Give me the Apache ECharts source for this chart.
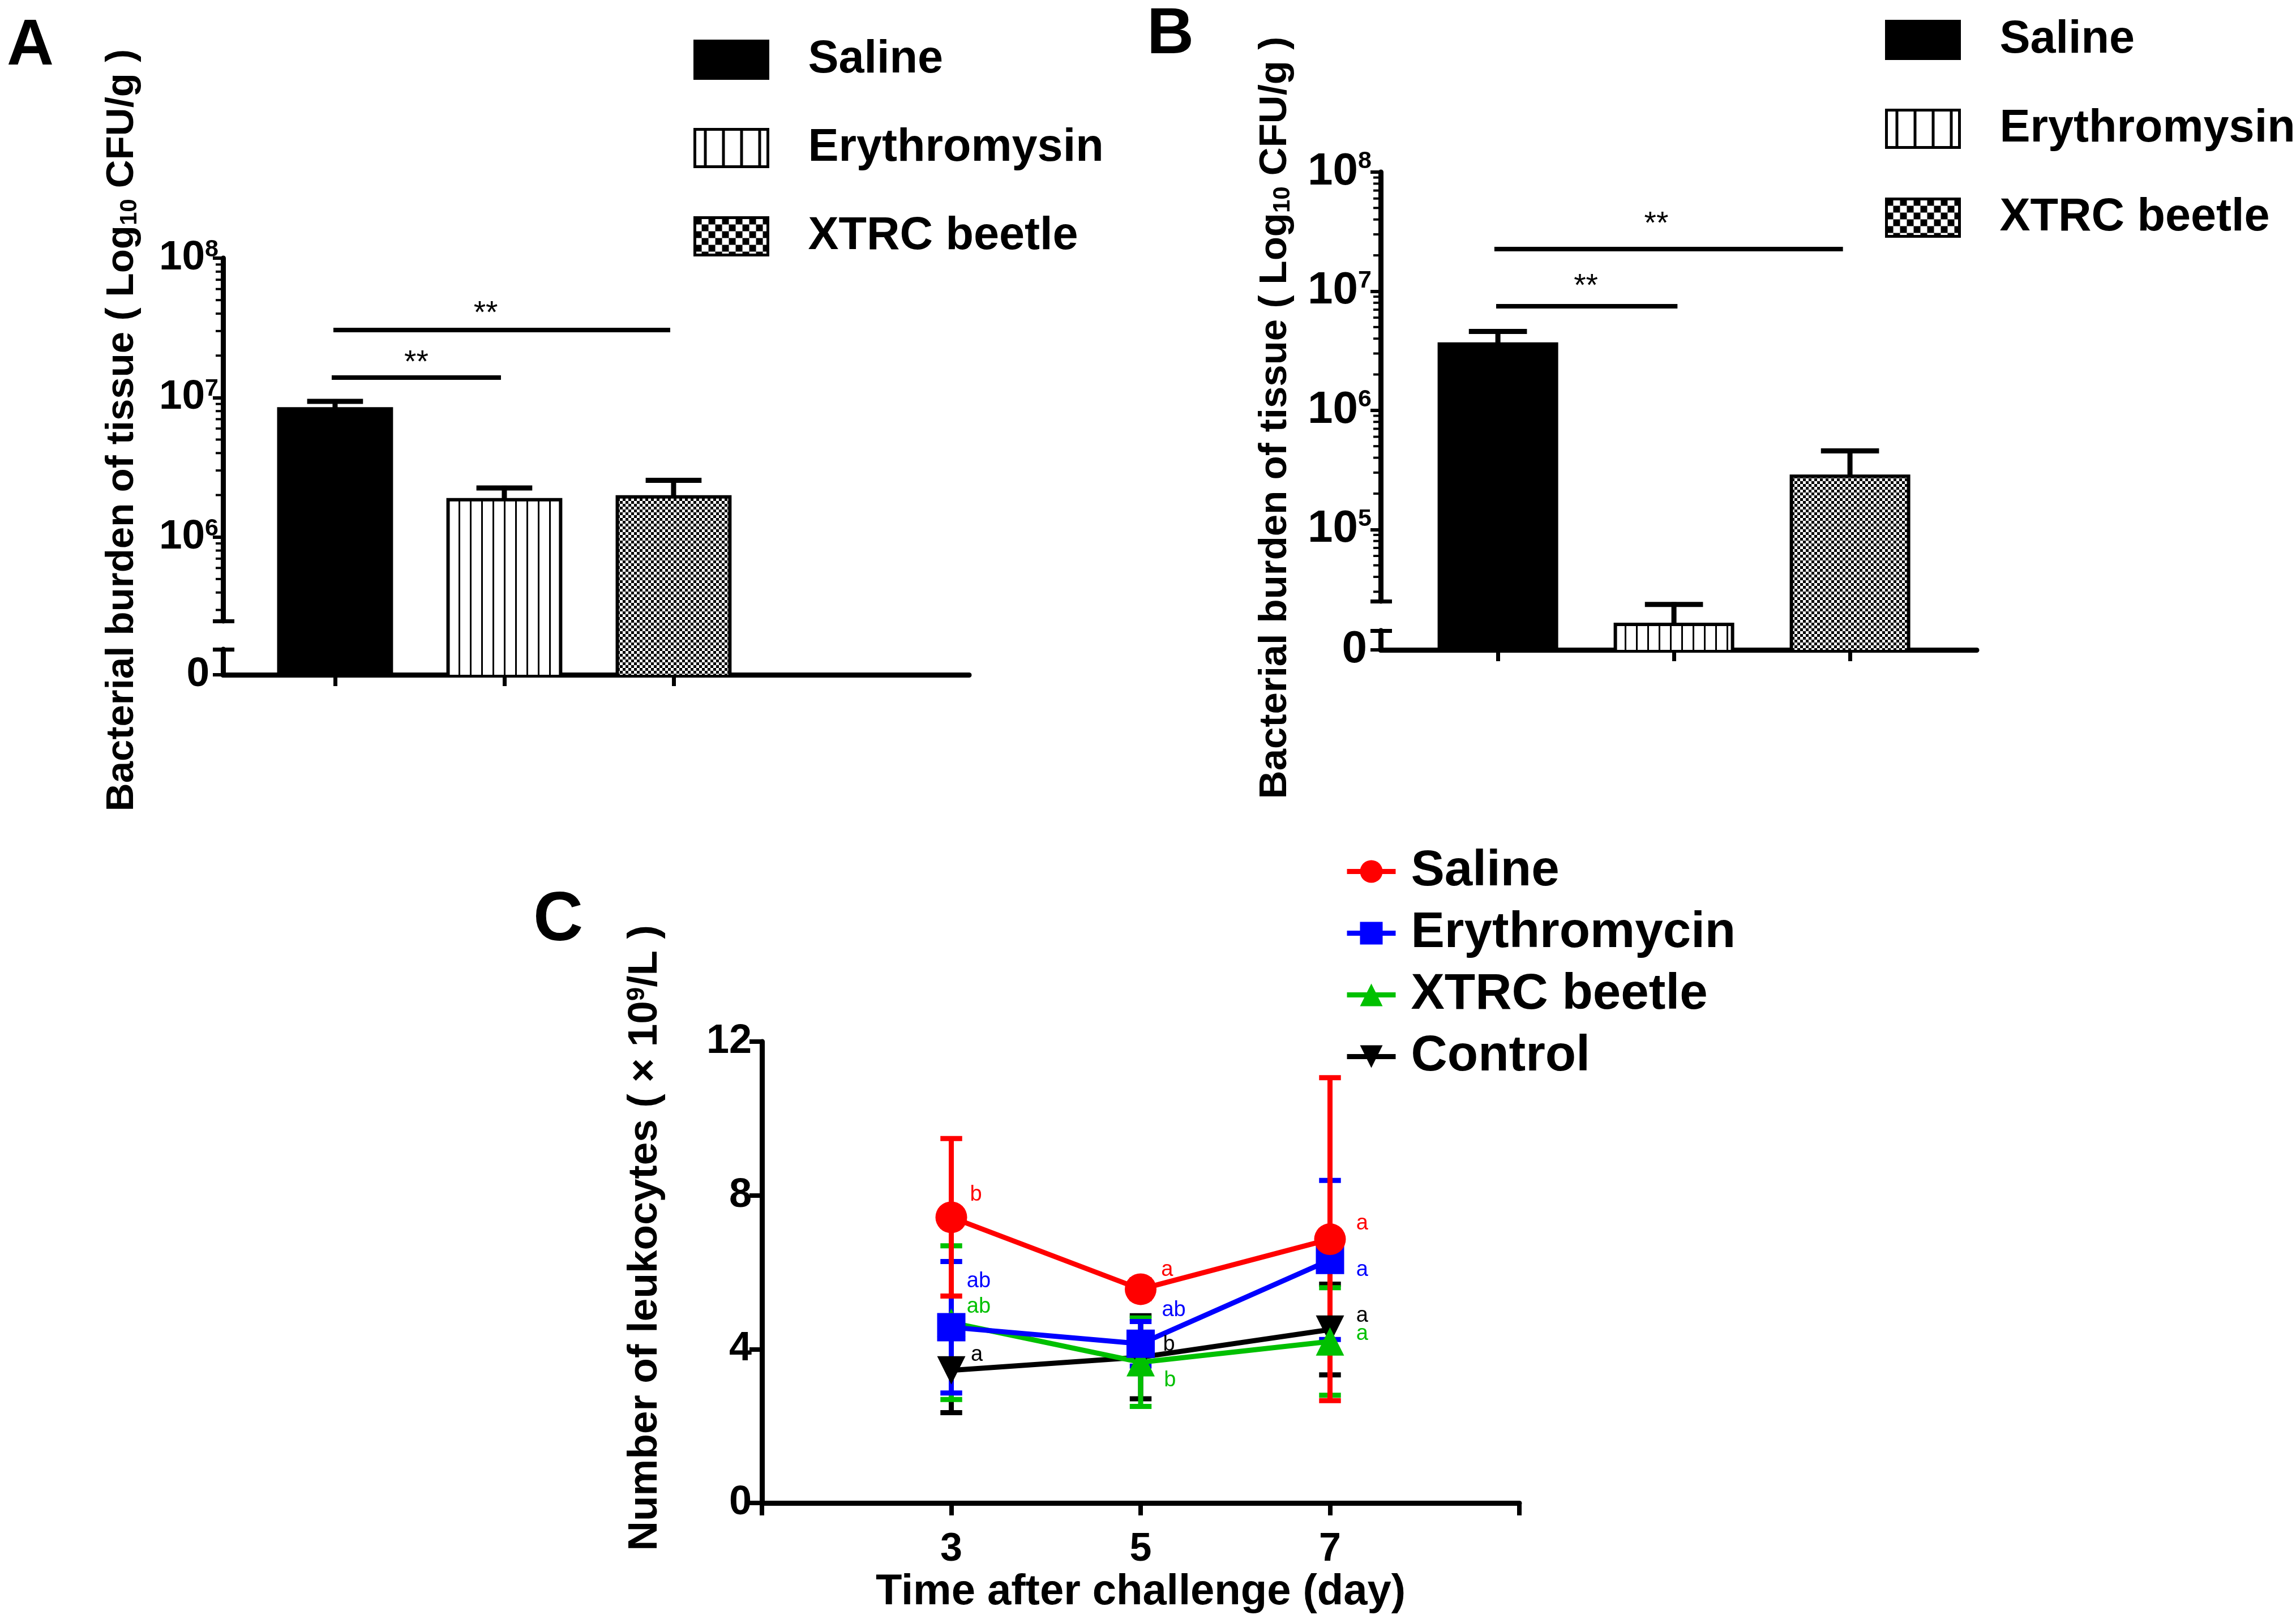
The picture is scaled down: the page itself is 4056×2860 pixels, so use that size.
<!DOCTYPE html>
<html lang="en">
<head>
  <meta charset="UTF-8">
  <title>Bacterial burden and leukocytes</title>
  <script src="https://cdn.jsdelivr.net/npm/echarts@6.0.0/dist/echarts.min.js"></script>
  <style>
    html, body { margin: 0; padding: 0; background: #fff; }
    .panel { position: absolute; left: 0; top: 0; width: 4056px; height: 2860px; }
  </style>
</head>
<body>
  <div id="panelA" class="panel"></div>
  <div id="panelB" class="panel"></div>
  <div id="panelC" class="panel"></div>

  <script type="text/javascript">
    const FONT = '"Liberation Sans", Arial, Helvetica, sans-serif';

    // ---------- panels A and B: tissue bacterial burden (CFU/g) ----------
    const barGroups = ['Saline', 'Erythromysin', 'XTRC beetle'];
    const barPositions = [0, 1, 2];
    const tissueMeanA = [8.3e6, 1.85e6, 1.94e6];
    const tissueErrTopA = [9.4e6, 2.25e6, 2.55e6];
    const tissueMeanB = [3.6e6, 1.6e4, 2.8e5];
    const tissueErrTopB = [4.6e6, 2.35e4, 4.57e5];
    // significance bars: [start, end, level]
    const sigBarsA = [[-0.02, 0.98, 1.39e7], [-0.01, 1.98, 3.05e7]];
    const sigBarsB = [[-0.01, 1.02, 7.48e6], [-0.02, 1.96, 2.26e7]];
    // "**" marks: [x, level]
    const sigStarsA = [[0.48, 1.97e7], [0.89, 4.43e7]];
    const sigStarsB = [[0.50, 1.24e7], [0.90, 4.12e7]];

    // ---------- panel C: leukocytes (x10^9/L) ----------
    const lineGroups = ['Saline', 'Erythromycin', 'XTRC beetle', 'Control'];
    const days = [3, 5, 7];
    const wbcSaline = [7.43, 5.56, 6.86];
    const wbcErythro = [4.57, 4.14, 6.32];
    const wbcXtrc = [4.69, 3.66, 4.2];
    const wbcControl = [3.45, 3.79, 4.51];
    const sdSaline = [2.05, 0.25, 4.2];
    const sdErythro = [1.71, 0.58, 2.07];
    const sdXtrc = [2.0, 1.15, 1.4];
    const sdControl = [1.1, 1.08, 1.18];
    // letters of significance: [x, y, text]
    const lettersSaline = [[3.26, 8.02, 'b'], [5.28, 6.06, 'a'], [7.34, 7.27, 'a']];
    const lettersErythro = [[3.29, 5.76, 'ab'], [5.35, 5.01, 'ab'], [7.34, 6.06, 'a']];
    const lettersXtrc = [[3.29, 5.10, 'ab'], [5.31, 3.19, 'b'], [7.34, 4.40, 'a']];
    const lettersControl = [[3.27, 3.85, 'a'], [5.30, 4.12, 'b'], [7.34, 4.86, 'a']];

    // ---------- fill patterns ----------
    function stripes(period, lineW) {
      const c = document.createElement('canvas');
      c.width = period; c.height = 4;
      const g = c.getContext('2d');
      g.fillStyle = '#fff'; g.fillRect(0, 0, period, 4);
      g.fillStyle = '#000'; g.fillRect(Math.round(period / 2), 0, lineW, 4);
      return { image: c, repeat: 'repeat' };
    }
    function checker(sq) {
      const c = document.createElement('canvas');
      c.width = sq * 2; c.height = sq * 2;
      const g = c.getContext('2d');
      g.fillStyle = '#fff'; g.fillRect(0, 0, sq * 2, sq * 2);
      g.fillStyle = '#000'; g.fillRect(0, 0, sq, sq); g.fillRect(sq, sq, sq, sq);
      return { image: c, repeat: 'repeat' };
    }
    const barFills = ['#000', stripes(20, 3), checker(5)];
    const legendFills = ['#000', stripes(32, 5), checker(12)];

    const BAR_FRAC = 0.685;
    const CAP_FRAC = 0.33;
    const BORDER = 6;

    function unitPx(api, v) {
      return api.coord([1, v])[0] - api.coord([0, v])[0];
    }
    // thick strokes drawn as filled rectangles
    function hBar(x1, x2, y, w, color) {
      return { type: 'rect', shape: { x: x1, y: y - w / 2, width: x2 - x1, height: w }, style: { fill: color } };
    }
    function vBar(x, y1, y2, w, color) {
      const top = Math.min(y1, y2);
      return { type: 'rect', shape: { x: x - w / 2, y: top, width: w, height: Math.abs(y2 - y1) }, style: { fill: color } };
    }

    function buildBarPanel(dom, p) {
      const chart = echarts.init(dom);
      const gapTop = p.upperTop + p.upperH;
      const lowTop = gapTop + p.gapH;
      const grids = [
        { left: p.left, top: p.upperTop, width: p.width, height: p.upperH, outerBoundsMode: 'none' },
        { left: p.left, top: gapTop, width: p.width, height: p.gapH, outerBoundsMode: 'none' },
        { left: p.left, top: lowTop, width: p.width, height: p.lowerH, outerBoundsMode: 'none' }
      ];
      const xAxes = grids.map((g, i) => ({
        gridIndex: i, type: 'value', min: p.xMin, max: p.xMax,
        show: i === 2,
        splitLine: { show: false },
        axisLine: { onZero: false, lineStyle: { color: '#000', width: 9 } },
        axisTick: { customValues: barPositions, length: 20, lineStyle: { color: '#000', width: 7 } },
        axisLabel: { show: false }
      }));
      const yAxes = [
        {
          gridIndex: 0, type: 'log', logBase: 10, min: p.logMin, max: 1e8,
          splitLine: { show: false },
          axisLine: { onZero: false, lineStyle: { color: '#000', width: 9 } },
          axisTick: { length: 18, lineStyle: { color: '#000', width: 6 } },
          axisLabel: {
            margin: p.labelMargin,
            formatter: function (v) {
              const e = Math.log10(v), r = Math.round(e);
              return Math.abs(e - r) < 1e-6 ? '{b|10}{s|' + r + '}' : '';
            },
            rich: {
              b: { fontFamily: FONT, fontSize: p.tickFont, fontWeight: 'bold', color: '#000' },
              s: { fontFamily: FONT, fontSize: 43, fontWeight: 'bold', color: '#000', verticalAlign: 'top' }
            }
          }
        },
        { gridIndex: 1, type: 'log', logBase: 10, min: p.gapMin, max: p.logMin, show: false, axisLine: { onZero: false } },
        {
          gridIndex: 2, type: 'value', min: 0, max: p.gapMin, interval: p.gapMin,
          splitLine: { show: false },
          axisLine: { onZero: false, lineStyle: { color: '#000', width: 9 } },
          axisTick: { length: 18, lineStyle: { color: '#000', width: 6 } },
          axisLabel: {
            margin: 24, fontFamily: FONT, fontSize: p.tickFont, fontWeight: 'bold', color: '#000',
            formatter: v => (v === 0 ? '0' : '')
          }
        }
      ];

      const series = [];
      const bases = [1, 1, 0];
      grids.forEach((g, gi) => {
        barGroups.forEach((name, k) => {
          series.push({
            type: 'custom', name: name, xAxisIndex: gi, yAxisIndex: gi,
            clip: true, silent: true, z: 2,
            data: [[barPositions[k], p.mean[k]]],
            renderItem: function (params, api) {
              const x = api.value(0), v = api.value(1);
              const top = api.coord([x, v]);
              const base = api.coord([x, bases[gi]]);
              const w = unitPx(api, v) * BAR_FRAC;
              const h = base[1] - top[1];
              return {
                type: 'group', children: [
                  { type: 'rect', shape: { x: top[0] - w / 2, y: top[1] - BORDER / 2, width: w, height: h + BORDER }, style: { fill: '#000' } },
                  { type: 'rect', shape: { x: top[0] - w / 2 + BORDER, y: top[1] + BORDER / 2, width: w - 2 * BORDER, height: h }, style: { fill: barFills[k] } }
                ]
              };
            }
          });
        });
      });
      // error bars (upper whisker only), drawn in the grid that holds the mean
      [0, 1].forEach(gi => {
        const items = [];
        barPositions.forEach((x, k) => {
          const inUpper = p.mean[k] >= p.logMin;
          if ((gi === 0) === inUpper) items.push([x, p.mean[k], p.errTop[k]]);
        });
        series.push({
          type: 'custom', name: 'sem', xAxisIndex: gi, yAxisIndex: gi,
          silent: true, z: 3,
          data: items,
          renderItem: function (params, api) {
            const a = api.coord([api.value(0), api.value(1)]);
            const b = api.coord([api.value(0), api.value(2)]);
            const half = unitPx(api, api.value(2)) * CAP_FRAC / 2;
            return {
              type: 'group', children: [
                vBar(a[0], a[1], b[1] - 4, 9, '#000'),
                hBar(b[0] - half, b[0] + half, b[1], 9, '#000')
              ]
            };
          }
        });
      });
      // minor ticks of the log segment
      const minors = [];
      for (let d = Math.floor(Math.log10(p.logMin)); d < 8; d++) {
        for (let k = 2; k <= 9; k++) {
          const v = k * Math.pow(10, d);
          if (v > p.logMin && v < 1e8) minors.push([p.xMin, v]);
        }
      }
      series.push({
        type: 'custom', name: 'minor', xAxisIndex: 0, yAxisIndex: 0, silent: true, z: 1,
        data: minors,
        renderItem: function (params, api) {
          const pt = api.coord([api.value(0), api.value(1)]);
          return hBar(pt[0] - 13, pt[0], pt[1], 4, '#000');
        }
      });
      // significance bars and stars
      series.push({
        type: 'custom', name: 'sig', xAxisIndex: 0, yAxisIndex: 0, silent: true, z: 3,
        data: p.sig,
        renderItem: function (params, api) {
          const a = api.coord([api.value(0), api.value(2)]);
          const b = api.coord([api.value(1), api.value(2)]);
          return hBar(a[0], b[0], a[1], 8, '#000');
        }
      });
      series.push({
        type: 'custom', name: 'stars', xAxisIndex: 0, yAxisIndex: 0, silent: true, z: 3,
        data: p.stars,
        renderItem: function (params, api) {
          const pt = api.coord([api.value(0), api.value(1)]);
          return {
            type: 'text', x: pt[0], y: pt[1] + 12,
            style: { text: '**', fontFamily: FONT, fontSize: 55, fill: '#000', align: 'center', verticalAlign: 'middle' }
          };
        }
      });

      const L = p.left;
      chart.setOption({
        animation: false,
        grid: grids,
        xAxis: xAxes,
        yAxis: yAxes,
        legend: {
          data: barGroups.map((g, k) => ({ name: g, itemStyle: { color: legendFills[k], borderColor: '#000', borderWidth: 5 } })),
          icon: 'rect', orient: 'vertical', left: p.legendLeft, top: p.legendTop,
          itemWidth: 129, itemHeight: 66, itemGap: p.legendGap, selectedMode: false,
          textStyle: { fontFamily: FONT, fontSize: 81, fontWeight: 'bold', color: '#000', lineHeight: 66, padding: [0, 0, 0, 66] }
        },
        graphic: [
          { type: 'rect', shape: { x: L - 18, y: gapTop - 3, width: 38, height: 7 }, style: { fill: '#000' } },
          { type: 'rect', shape: { x: L - 18, y: lowTop - 3, width: 38, height: 7 }, style: { fill: '#000' } },
          {
            type: 'text', x: p.letterX, y: p.letterY,
            style: { text: p.letter, fontFamily: FONT, fontSize: 115, fontWeight: 'bold', fill: '#000', align: 'left', verticalAlign: 'middle' }
          },
          {
            type: 'text', x: p.titleX, y: p.titleY, rotation: Math.PI / 2,
            style: {
              text: '{t|Bacterial burden of tissue ( Log}{s|10}{t| CFU/g )}',
              align: 'center', verticalAlign: 'middle',
              rich: {
                t: { fontFamily: FONT, fontSize: 69, fontWeight: 'bold', fill: '#000' },
                s: { fontFamily: FONT, fontSize: 42, fontWeight: 'bold', fill: '#000', verticalAlign: 'bottom' }
              }
            }
          }
        ],
        series: series
      });
      return chart;
    }

    buildBarPanel(document.getElementById('panelA'), {
      left: 394, width: 1318, xMin: -0.662, xMax: 3.746,
      upperTop: 456, upperH: 641, gapH: 50, lowerH: 45,
      logMin: 2.5e5, gapMin: 1.57e5,
      mean: tissueMeanA, errTop: tissueErrTopA, sig: sigBarsA, stars: sigStarsA,
      tickFont: 73, labelMargin: 8,
      legendLeft: 1220, legendTop: 60, legendGap: 75,
      letter: 'A', letterX: 12, letterY: 82,
      titleX: 216, titleY: 760
    });

    buildBarPanel(document.getElementById('panelB'), {
      left: 2439, width: 1053, xMin: -0.666, xMax: 2.72,
      upperTop: 304, upperH: 758, gapH: 52, lowerH: 34,
      logMin: 2.5e4, gapMin: 1.42e4,
      mean: tissueMeanB, errTop: tissueErrTopB, sig: sigBarsB, stars: sigStarsB,
      tickFont: 80, labelMargin: 16,
      legendLeft: 3325, legendTop: 25, legendGap: 76,
      letter: 'B', letterX: 2026, letterY: 62,
      titleX: 2253, titleY: 738
    });

    // ---------- panel C ----------
    const chartC = echarts.init(document.getElementById('panelC'));
    const lineColors = ['#ff0000', '#0000ff', '#00c000', '#000000'];
    const lineSymbols = ['circle', 'rect', 'triangle', 'triangle'];
    const lineSymbolRotate = [0, 0, 0, 180];
    const lineSymbolSize = [56, 50, 50, 50];
    const wbc = [wbcSaline, wbcErythro, wbcXtrc, wbcControl];
    const sds = [sdSaline, sdErythro, sdXtrc, sdControl];
    const letters = [lettersSaline, lettersErythro, lettersXtrc, lettersControl];
    const drawOrder = [3, 2, 1, 0];

    const seriesC = [];
    drawOrder.forEach(g => {
      seriesC.push({
        type: 'custom', name: lineGroups[g] + ' SD', silent: true, z: 2,
        data: days.map((d, i) => [d, wbc[g][i], sds[g][i]]),
        renderItem: function (params, api) {
          const x = api.value(0), m = api.value(1), s = api.value(2);
          const lo = api.coord([x, m - s]), hi = api.coord([x, m + s]);
          const half = unitPx(api, m) * 0.115;
          const c = lineColors[g];
          return {
            type: 'group', children: [
              vBar(lo[0], lo[1], hi[1], 9, c),
              hBar(hi[0] - half, hi[0] + half, hi[1], 9, c),
              hBar(lo[0] - half, lo[0] + half, lo[1], 9, c)
            ]
          };
        }
      });
    });
    drawOrder.forEach(g => {
      seriesC.push({
        type: 'line', name: lineGroups[g], z: 3,
        data: days.map((d, i) => [d, wbc[g][i]]),
        symbol: lineSymbols[g], symbolSize: lineSymbolSize[g], symbolRotate: lineSymbolRotate[g],
        showAllSymbol: true,
        lineStyle: { color: lineColors[g], width: 9 },
        itemStyle: { color: lineColors[g] }
      });
    });
    drawOrder.forEach(g => {
      seriesC.push({
        type: 'custom', name: lineGroups[g] + ' letters', silent: true, z: 4,
        data: letters[g].map(l => [l[0], l[1]]),
        renderItem: function (params, api) {
          const pt = api.coord([api.value(0), api.value(1)]);
          return {
            type: 'text', x: pt[0], y: pt[1],
            style: { text: letters[g][params.dataIndex][2], fontFamily: FONT, fontSize: 38, fill: lineColors[g], align: 'center', verticalAlign: 'middle' }
          };
        }
      });
    });

    chartC.setOption({
      animation: false,
      grid: { left: 1346, top: 1840, width: 1338, height: 815, outerBoundsMode: 'none' },
      xAxis: {
        type: 'value', min: 1, max: 9, interval: 2,
        splitLine: { show: false },
        axisLine: { onZero: false, lineStyle: { color: '#000', width: 9 } },
        axisTick: { length: 22, lineStyle: { color: '#000', width: 8 } },
        axisLabel: {
          margin: 48, fontFamily: FONT, fontSize: 70, fontWeight: 'bold', color: '#000',
          formatter: v => (days.indexOf(v) >= 0 ? String(v) : '')
        },
        name: 'Time after challenge (day)', nameLocation: 'middle', nameGap: 120,
        nameTextStyle: { fontFamily: FONT, fontSize: 76, fontWeight: 'bold', color: '#000' }
      },
      yAxis: {
        type: 'value', min: 0, max: 12, interval: 4,
        splitLine: { show: false },
        axisLine: { onZero: false, lineStyle: { color: '#000', width: 9 } },
        axisTick: { length: 22, lineStyle: { color: '#000', width: 8 } },
        axisLabel: { margin: 18, fontFamily: FONT, fontSize: 72, fontWeight: 'bold', color: '#000' }
      },
      legend: {
        data: lineGroups, orient: 'vertical', left: 2370, top: 1490,
        itemWidth: 86, itemHeight: 50, itemGap: 20, selectedMode: false,
        lineStyle: { width: 9 },
        textStyle: { fontFamily: FONT, fontSize: 89, fontWeight: 'bold', color: '#000', lineHeight: 50, padding: [0, 0, 0, 22] }
      },
      graphic: [
        {
          type: 'text', x: 942, y: 1627,
          style: { text: 'C', fontFamily: FONT, fontSize: 122, fontWeight: 'bold', fill: '#000', align: 'left', verticalAlign: 'middle' }
        },
        {
          type: 'text', x: 1140, y: 2187, rotation: Math.PI / 2,
          style: {
            text: '{t|Number of leukocytes ( × 10}{s|9}{t|/L )}',
            align: 'center', verticalAlign: 'middle',
            rich: {
              t: { fontFamily: FONT, fontSize: 73, fontWeight: 'bold', fill: '#000' },
              s: { fontFamily: FONT, fontSize: 44, fontWeight: 'bold', fill: '#000', verticalAlign: 'top' }
            }
          }
        }
      ],
      series: seriesC
    });
  </script>
</body>
</html>
